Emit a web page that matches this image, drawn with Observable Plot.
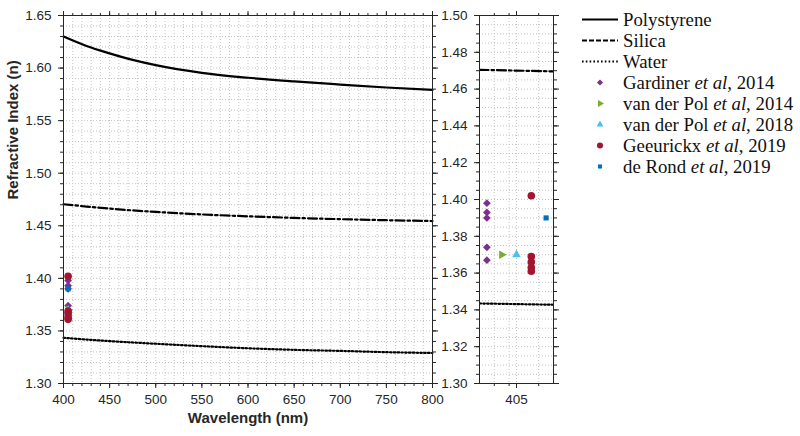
<!DOCTYPE html>
<html>
<head>
<meta charset="utf-8">
<script src="https://cdn.jsdelivr.net/npm/d3@7"></script>
<script src="https://cdn.jsdelivr.net/npm/@observablehq/plot@0.6"></script>
<style>
  html, body { margin: 0; padding: 0; background: #fff; }
  #chart { position: relative; width: 800px; height: 436px; overflow: hidden; }
  #left { position: absolute; left: 0; top: 0; }
  #right { position: absolute; left: 430px; top: 0; }
  #legend { position: absolute; left: 582px; top: 9px; font-family: 'Liberation Serif', 'Times New Roman', serif; font-size: 18.8px; color: #111; }
  .row { display: flex; align-items: center; height: 21px; white-space: nowrap; }
  .row svg { flex: none; margin-right: 5px; }
</style>
</head>
<body>
<div id="chart">
  <div id="left"></div>
  <div id="right"></div>
  <div id="legend"></div>
</div>
<script>
// ---------- data ----------
const wavelengths = [400, 425, 450, 475, 500, 550, 600, 650, 700, 750, 800];
const polystyrene = [1.6300, 1.6210, 1.6140, 1.6078, 1.6028, 1.5955, 1.5908, 1.5873, 1.5843, 1.5815, 1.5793];
const silica      = [1.4705, 1.4683, 1.4663, 1.4646, 1.4632, 1.4608, 1.4590, 1.4575, 1.4563, 1.4553, 1.4545];
const water       = [1.3435, 1.3418, 1.3403, 1.3390, 1.3378, 1.3355, 1.3335, 1.3320, 1.3310, 1.3298, 1.3290];
const materials = ["Polystyrene", "Silica", "Water"];

const measuredWavelength = 405;
const studies = ["Gardiner et al, 2014", "van der Pol et al, 2014", "van der Pol et al, 2018", "Geeurickx et al, 2019", "de Rond et al, 2019"];
const gardiner2014  = [1.398, 1.393, 1.390, 1.374, 1.367];
const vanderPol2014 = [1.370];
const vanderPol2018 = [1.370];
const geeurickx2019 = [1.402, 1.369, 1.366, 1.363, 1.361];
const deRond2019    = [1.390];

const leftXTicks = [400, 450, 500, 550, 600, 650, 700, 750, 800];
const leftYTicks = [1.30, 1.35, 1.40, 1.45, 1.50, 1.55, 1.60, 1.65];
const rightXTicks = [405];
const rightYTicks = [1.30, 1.32, 1.34, 1.36, 1.38, 1.40, 1.42, 1.44, 1.46, 1.48, 1.50];

// ---------- tables ----------
const materialValues = [polystyrene, silica, water];
const curves = materials.flatMap((m, i) => wavelengths.map((w, j) => ({material: m, wavelength: w, n: materialValues[i][j]})));
const studyValues = [gardiner2014, vanderPol2014, vanderPol2018, geeurickx2019, deRond2019];
const points = studies.flatMap((s, i) => studyValues[i].map(n => ({study: s, wavelength: measuredWavelength, n})));

// ---------- styles ----------
const ink = "#262626";
const lineStyle = {
  Polystyrene: {dash: null, width: 2.2},
  Silica: {dash: "9,3,2.5,3", width: 2.2},
  Water: {dash: "1.6,2.2", width: 2.2}
};
const triangleRight = {
  draw(ctx, size) {
    const y = -Math.sqrt(size / (Math.sqrt(3) * 3));
    ctx.moveTo(-2 * y, 0);
    ctx.lineTo(y, -Math.sqrt(3) * y);
    ctx.lineTo(y, Math.sqrt(3) * y);
    ctx.closePath();
  }
};
const markerStyle = {
  "Gardiner et al, 2014":    {symbol: "diamond2", fill: "#7E2F8E", r: 3.5},
  "van der Pol et al, 2014": {symbol: triangleRight, fill: "#77AC30", r: 3.2},
  "van der Pol et al, 2018": {symbol: "triangle", fill: "#4DBEEE", r: 3.2},
  "Geeurickx et al, 2019":   {symbol: "circle", fill: "#A2142F", r: 3.8},
  "de Rond et al, 2019":     {symbol: "square", fill: "#0072BD", r: 2.9}
};

const fontStyle = {fontFamily: "'Liberation Sans', Arial, sans-serif", fontSize: "13.5px", color: ink, background: "transparent", overflow: "visible"};
const gridStyle = {stroke: "#c4c4c4", strokeOpacity: 1, strokeDasharray: "1,2", strokeWidth: 1};
const range = (a, b, step) => d3.range(Math.round(a / step), Math.round(b / step) + 1).map(k => +(k * step).toFixed(4));

function lineMarks(clip) {
  return materials.map(m => Plot.line(curves.filter(d => d.material === m), {
    x: "wavelength", y: "n", stroke: "black", strokeWidth: lineStyle[m].width,
    strokeDasharray: lineStyle[m].dash, curve: "monotone-x", clip
  }));
}
function dotMarks(xAccessor) {
  return studies.map(s => Plot.dot(points.filter(d => d.study === s), {
    x: xAccessor, y: "n", symbol: markerStyle[s].symbol, fill: markerStyle[s].fill, r: markerStyle[s].r, stroke: "none"
  }));
}
function axes(xMajor, xMinor, yMajor, yMinor, xFmt, yFmt) {
  const blank = () => "";
  return [
    Plot.axisX(xMinor, {anchor: "bottom", tickSize: 3, tickFormat: blank, label: null, stroke: ink}),
    Plot.axisX(xMinor, {anchor: "top", tickSize: 3, tickFormat: blank, label: null, stroke: ink}),
    Plot.axisY(yMinor, {anchor: "left", tickSize: 3, tickFormat: blank, label: null, stroke: ink}),
    Plot.axisY(yMinor, {anchor: "right", tickSize: 3, tickFormat: blank, label: null, stroke: ink}),
    Plot.axisX(xMajor, {anchor: "bottom", tickSize: 5, tickPadding: 6, tickFormat: xFmt, label: null, stroke: ink, fill: ink}),
    Plot.axisX(xMajor, {anchor: "top", tickSize: 5, tickFormat: blank, label: null, stroke: ink}),
    Plot.axisY(yMajor, {anchor: "left", tickSize: 5, tickPadding: 7, tickFormat: yFmt, label: null, stroke: ink, fill: ink}),
    Plot.axisY(yMajor, {anchor: "right", tickSize: 5, tickFormat: blank, label: null, stroke: ink})
  ];
}

// ---------- left panel ----------
const leftXMinor = range(400, 800, 10);
const leftYMinor = range(1.30, 1.65, 0.01);
const left = Plot.plot({
  width: 445, height: 436,
  marginLeft: 63, marginRight: 13, marginTop: 15, marginBottom: 53,
  style: fontStyle,
  x: {domain: [400, 800]},
  y: {domain: [1.30, 1.65]},
  marks: [
    Plot.gridX(leftXMinor, gridStyle),
    Plot.gridY(leftYMinor, gridStyle),
    ...lineMarks(false),
    ...dotMarks("wavelength"),
    Plot.frame({stroke: ink, strokeWidth: 1}),
    ...axes(leftXTicks, leftXMinor, leftYTicks, leftYMinor, d3.format("d"), d3.format(".2f")),
    Plot.text(["Wavelength (nm)"], {frameAnchor: "bottom", dy: 39, fontWeight: "bold", fontSize: 15, fill: ink}),
    Plot.text(["Refractive Index (n)"], {frameAnchor: "left", dx: -50, rotate: -90, fontWeight: "bold", fontSize: 15, fill: ink})
  ]
});
document.getElementById("left").appendChild(left);

// ---------- right panel (zoom at 405 nm, studies spread side by side) ----------
const spread = d3.scalePoint().domain(studies).range([400, 410]).padding(0.5);
const rightXMinor = [402, 404, 408];
const rightYMinor = range(1.30, 1.50, 0.005);
const right = Plot.plot({
  width: 140, height: 436,
  marginLeft: 49, marginRight: 17, marginTop: 15, marginBottom: 53,
  style: fontStyle,
  x: {domain: [400, 410]},
  y: {domain: [1.30, 1.50]},
  marks: [
    Plot.gridX([402, 404, 405, 408], gridStyle),
    Plot.gridY(rightYMinor, gridStyle),
    ...lineMarks(true),
    ...dotMarks(d => spread(d.study)),
    Plot.frame({stroke: ink, strokeWidth: 1}),
    ...axes(rightXTicks, rightXMinor, rightYTicks, rightYMinor, d3.format("d"), d3.format(".2f"))
  ]
});
document.getElementById("right").appendChild(right);

// ---------- legend ----------
const legend = d3.select("#legend");
materials.forEach(m => {
  const row = legend.append("div").attr("class", "row");
  const svg = row.append("svg").attr("width", 36).attr("height", 21);
  svg.append("line").attr("x1", 0).attr("x2", 36).attr("y1", 10.5).attr("y2", 10.5)
    .attr("stroke", "black").attr("stroke-width", lineStyle[m].width)
    .attr("stroke-dasharray", m === "Silica" ? "5,2" : lineStyle[m].dash);
  row.append("span").text(m);
});
studies.forEach(s => {
  const row = legend.append("div").attr("class", "row");
  const svg = row.append("svg").attr("width", 36).attr("height", 21);
  const st = markerStyle[s];
  const symType = {diamond2: d3.symbolDiamond2, triangle: d3.symbolTriangle, circle: d3.symbolCircle, square: d3.symbolSquare}[st.symbol] || st.symbol;
  const r = st.r * 0.8;
  svg.append("path").attr("transform", "translate(18,10.5)")
    .attr("d", d3.symbol(symType, Math.PI * r * r)())
    .attr("fill", st.fill);
  const parts = s.split(" et al");
  const span = row.append("span");
  span.append("span").text(parts[0] + " ");
  span.append("i").text("et al");
  span.append("span").text(parts[1]);
});
</script>
</body>
</html>
